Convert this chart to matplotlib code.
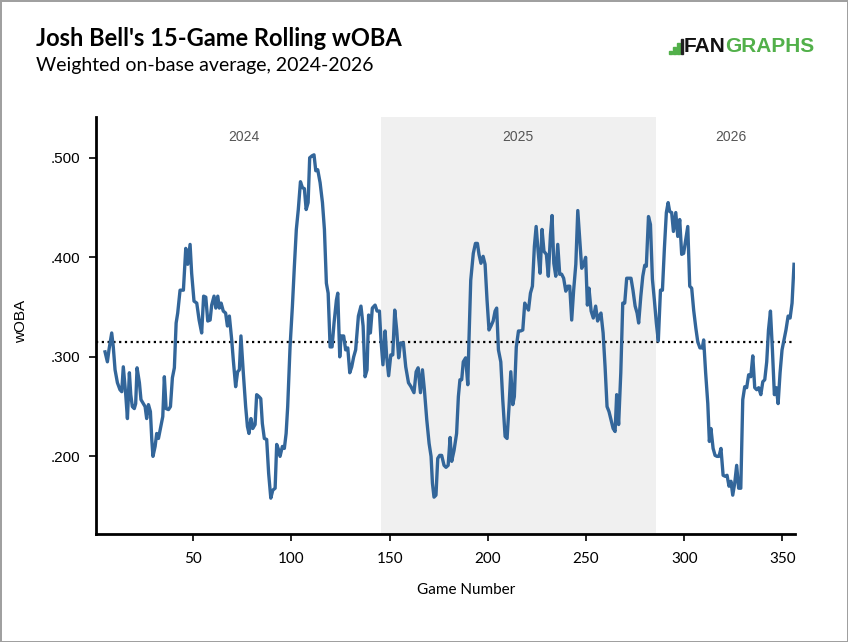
import matplotlib
matplotlib.use("Agg")
import matplotlib.pyplot as plt
from matplotlib.patches import Rectangle
from matplotlib.ticker import FuncFormatter

# digitized 15-game rolling wOBA
games = [5.1, 6.3, 7.1, 8.5, 9.3, 10.2, 11.4, 12.7, 13.6, 14.4, 15.6, 16.5, 17.5, 18.2, 19.0,
         20.0, 20.7, 21.4, 22.6, 23.4, 24.6, 25.5, 26.3, 27.2, 28.2, 28.9, 29.5, 30.6, 31.4,
         32.3, 33.3, 34.5, 35.3, 36.2, 37.4, 38.4, 39.4, 40.4, 41.3, 42.1, 43.3, 45.0, 46.2,
         47.2, 48.4, 49.2, 50.4, 51.8, 53.0, 54.3, 55.3, 56.4, 57.4, 58.6, 59.4, 60.6, 61.5,
         62.5, 63.3, 64.2, 65.3, 66.5, 67.4, 68.4, 69.6, 70.4, 71.6, 72.6, 73.5, 74.3, 75.5,
         76.7, 77.6, 78.4, 79.4, 80.3, 81.5, 82.3, 83.5, 84.4, 85.2, 86.2, 87.4, 88.4, 89.5,
         90.5, 91.7, 92.5, 93.4, 94.2, 95.4, 96.4, 97.3, 98.1, 99.3, 100.5, 101.5, 102.5,
         103.5, 104.6, 105.6, 106.6, 107.5, 108.5, 109.3, 110.5, 111.5, 112.4, 113.4, 114.6,
         115.8, 116.8, 117.8, 118.7, 119.7, 120.7, 121.7, 122.9, 123.6, 124.6, 125.3, 126.6,
         127.6, 128.7, 129.7, 130.7, 131.7, 132.7, 134.1, 135.4, 136.5, 137.5, 138.5, 139.3,
         140.2, 141.2, 142.6, 143.6, 144.8, 145.6, 146.6, 147.7, 148.5, 149.5, 150.6, 151.6,
         152.6, 153.6, 154.6, 155.6, 157.0, 158.2, 159.6, 160.9, 162.4, 163.5, 164.5, 165.7,
         166.7, 167.7, 168.9, 170.1, 171.1, 171.8, 172.6, 173.6, 174.5, 175.5, 176.5, 177.7,
         178.7, 179.8, 180.8, 181.6, 182.8, 184.1, 185.0, 185.8, 186.7, 187.5, 188.7, 189.8,
         190.4, 191.3, 192.6, 193.7, 194.7, 195.5, 196.5, 197.6, 198.6, 199.6, 200.6, 201.6,
         202.7, 203.7, 204.5, 205.4, 206.6, 207.6, 208.8, 209.8, 210.8, 211.7, 212.7, 213.5,
         214.5, 215.6, 216.7, 217.8, 218.8, 219.6, 220.7, 221.7, 222.7, 223.7, 224.6, 225.6,
         226.6, 227.6, 228.6, 229.8, 230.8, 231.9, 232.7, 233.6, 234.6, 235.6, 236.6, 237.6,
         238.6, 239.7, 240.7, 241.7, 242.7, 243.7, 244.8, 245.8, 246.8, 247.8, 248.8, 249.8,
         250.7, 251.5, 252.6, 253.7, 254.9, 255.9, 257.0, 257.6, 258.7, 259.7, 260.7, 261.7,
         262.7, 263.8, 264.8, 265.6, 266.6, 267.7, 268.7, 269.7, 270.7, 271.9, 272.9, 273.9,
         275.0, 276.0, 276.8, 277.9, 278.9, 279.9, 280.7, 281.8, 282.8, 283.8, 284.8, 285.8,
         286.8, 287.9, 288.9, 289.9, 290.9, 291.8, 292.6, 293.6, 294.5, 295.7, 296.7, 297.7,
         298.7, 299.7, 300.8, 301.8, 302.8, 303.8, 304.8, 305.9, 306.9, 308.0, 309.2, 309.9,
         310.9, 312.0, 312.8, 313.6, 314.7, 315.7, 316.7, 317.7, 318.7, 319.8, 320.8, 321.8,
         322.8, 323.8, 324.7, 325.7, 326.7, 327.7, 328.8, 329.8, 330.8, 331.8, 332.8, 333.9,
         334.9, 335.9, 336.9, 337.9, 339.0, 340.0, 341.0, 342.0, 342.9, 343.9, 344.9, 345.9,
         346.9, 347.8, 348.8, 349.8, 350.8, 351.8, 352.9, 353.9, 354.9, 355.9]
woba = [.305, .295, .307, .324, .310, .287, .274, .267, .265, .290, .263, .238, .284, .262, .250,
        .248, .253, .289, .274, .257, .253, .250, .238, .252, .245, .217, .200, .210, .223,
        .218, .228, .240, .280, .248, .247, .250, .279, .289, .334, .344, .367, .367, .409,
        .393, .413, .384, .356, .354, .337, .324, .361, .360, .336, .337, .352, .361, .349,
        .361, .349, .354, .346, .344, .331, .341, .317, .297, .270, .285, .287, .321, .284,
        .250, .230, .223, .238, .228, .232, .262, .260, .258, .233, .218, .217, .183, .158,
        .166, .168, .212, .207, .200, .210, .208, .223, .250, .310, .351, .391, .428,
        .448, .476, .470, .469, .448, .455, .500, .502, .503, .487, .488, .475,
        .455, .428, .374, .364, .310, .310, .334, .357, .364, .300, .321, .321,
        .307, .309, .284, .290, .300, .307, .341, .351, .331, .280, .287, .342,
        .324, .349, .352, .346, .346, .317, .292, .326, .300, .281, .302, .302,
        .347, .327, .299, .314, .314, .290, .274, .270, .264, .285, .289, .264,
        .287, .267, .237, .213, .200, .173, .159, .161, .198, .201, .201, .191,
        .189, .191, .219, .195, .206, .223, .260, .277, .277, .295, .299, .272,
        .317, .377, .404, .414, .414, .403, .394, .401, .393, .357, .327, .331,
        .336, .346, .349, .307, .295, .257, .220, .218, .250, .285, .252, .260,
        .310, .326, .326, .327, .354, .351, .347, .364, .371, .411, .431, .406,
        .384, .428, .406, .403, .381, .423, .442, .394, .381, .413, .383, .383,
        .379, .366, .371, .371, .337, .367, .393, .447, .418, .389, .393, .400,
        .352, .369, .346, .339, .351, .336, .342, .344, .324, .290, .250, .245,
        .237, .228, .225, .262, .232, .284, .354, .354, .379, .379, .379, .367,
        .351, .344, .334, .361, .381, .392, .391, .441, .433, .378, .357, .334,
        .316, .367, .367, .409, .445, .455, .446, .445, .426, .445, .421, .438,
        .403, .404, .418, .431, .371, .369, .347, .329, .315, .309, .309, .317,
        .284, .253, .215, .228, .208, .201, .200, .200, .208, .181, .180, .181,
        .170, .175, .161, .173, .191, .168, .168, .257, .270, .269, .282, .280,
        .301, .269, .267, .269, .262, .275, .277, .295, .327, .346, .307, .262,
        .269, .253, .284, .307, .317, .327, .341, .339, .354, .393]

season_labels = ["2024", "2025", "2026"]
season_bounds = [0.5, 145.5, 285.5, 356.4]
label_pos = [76, 215.5, 324]
league_avg = 0.315
yticks = [0.2, 0.3, 0.4, 0.5]
xticks = [50, 100, 150, 200, 250, 300, 350]

fig = plt.figure(figsize=(8.48, 6.42), dpi=100)
fig.patch.set_edgecolor("#a0a0a0")
fig.patch.set_linewidth(2)
W, H = 848, 642
ax = fig.add_axes([96 / W, 1 - 534 / H, 699 / W, 417 / H])

ax.axvspan(season_bounds[1], season_bounds[2], color="#f0f0f0", lw=0, zorder=0)
ax.axhline(league_avg, color="black", ls=(0, (1, 1.6)), lw=1.6, zorder=2)
ax.plot(games, woba, color="#33669a", lw=2.4, solid_joinstyle="round", zorder=3)

for lab, xp in zip(season_labels, label_pos):
    ax.text(xp, 0.952, lab, transform=ax.get_xaxis_transform(),
            ha="center", va="center", fontsize=10, color="#555555",
            family="Liberation Sans")

ax.set_xlim(season_bounds[0], season_bounds[-1])
ax.set_ylim(0.122, 0.541)
ax.set_xticks(xticks)
ax.set_yticks(yticks)
ax.yaxis.set_major_formatter(FuncFormatter(lambda v, p: ("%.3f" % v)[1:]))
for s in ["top", "right"]:
    ax.spines[s].set_visible(False)
for s in ["left", "bottom"]:
    ax.spines[s].set_linewidth(2)
ax.tick_params(axis="both", length=5, width=1.2, color="black")
for t in ax.get_yticklabels():
    t.set_family("Liberation Sans")
    t.set_fontsize(11)
for t in ax.get_xticklabels():
    t.set_family("Lato")
    t.set_fontsize(11)
ax.tick_params(axis="x", pad=8)
ax.tick_params(axis="y", pad=6)

ax.set_xlabel("Game Number", family="Lato", fontsize=11)
ax.xaxis.set_label_coords((466 - 96) / 699, -0.118)
ax.set_ylabel("wOBA", family="Liberation Sans", fontsize=11)
ax.yaxis.set_label_coords((28 - 96) / 699, 0.51)

fig.text(36 / W, 1 - 39 / H, "Josh Bell's 15-Game Rolling wOBA", family="Lato",
         weight="bold", fontsize=17, va="center", ha="left")
fig.text(36 / W, 1 - 66 / H, "Weighted on-base average, 2024-2026", family="Lato",
         fontsize=14, va="center", ha="left")

# FanGraphs logo
green = "#52b04a"
for bx, bh in [(669, 3), (673, 7), (677, 11)]:
    fig.add_artist(Rectangle((bx / W, 1 - 54 / H), 2.5 / W, bh / H, color=green,
                             transform=fig.transFigure))
fig.add_artist(Rectangle((680.5 / W, 1 - 54 / H), 2.5 / W, 15 / H, color="#222222",
                         transform=fig.transFigure))
t1 = fig.text(684 / W, 1 - 46 / H, "FAN", family="Liberation Sans", weight="bold",
              fontsize=15, color="#111111", va="center", ha="left")
fig.canvas.draw()
bb = t1.get_window_extent()
fig.text((bb.x1 - 1) / W, 1 - 46 / H, "GRAPHS", family="Liberation Sans", weight="bold",
         fontsize=15, color=green, va="center", ha="left")

fig.savefig("out.png", dpi=100, facecolor=fig.get_facecolor(),
            edgecolor=fig.get_edgecolor())
